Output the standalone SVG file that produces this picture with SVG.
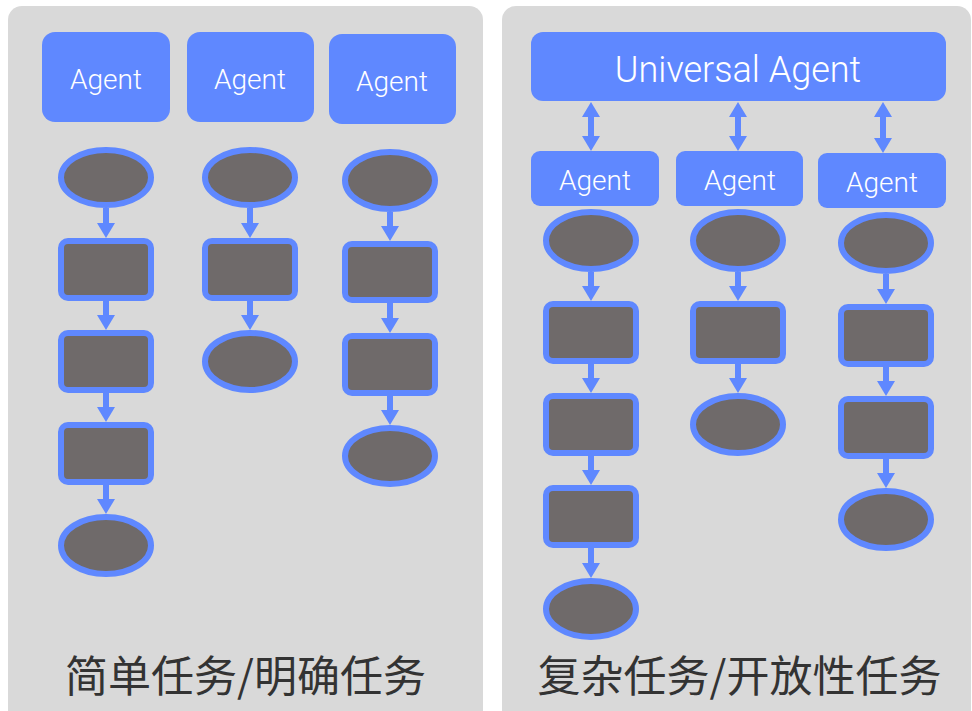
<svg xmlns="http://www.w3.org/2000/svg" width="972" height="711" viewBox="0 0 972 711">
<defs>
<style>
.panel{fill:#d9d9d9}
.agent{fill:#5f88ff}
.at{fill:#fff;font-family:Roboto,"Liberation Sans",sans-serif;font-weight:300;text-anchor:middle}
.step{fill:#6f6a6a;stroke:#5f88ff;stroke-width:6}
.arr{stroke:#5f88ff;stroke-width:6;fill:none}
.cap{fill:#333;font-family:"Noto Sans CJK SC","Noto Sans",sans-serif;font-size:43px;text-anchor:middle}
</style>
<marker id="ah" viewBox="0 0 15 18" refX="0" refY="9" markerWidth="15" markerHeight="18" markerUnits="userSpaceOnUse" orient="auto-start-reverse">
<path d="M0,0 L15,9 L0,18 z" fill="#5f88ff"/>
</marker>
</defs>
<rect class="panel" x="8" y="6" width="475" height="720" rx="14"/>
<rect class="panel" x="502" y="6" width="469" height="720" rx="14"/>
<g id="connectors">
<path class="arr" marker-end="url(#ah)" d="M106,208 V223"/>
<path class="arr" marker-end="url(#ah)" d="M106,301 V315"/>
<path class="arr" marker-end="url(#ah)" d="M106,393 V407"/>
<path class="arr" marker-end="url(#ah)" d="M106,485 V499"/>
<path class="arr" marker-end="url(#ah)" d="M250,208 V223"/>
<path class="arr" marker-end="url(#ah)" d="M250,301 V315"/>
<path class="arr" marker-end="url(#ah)" d="M390,212 V226"/>
<path class="arr" marker-end="url(#ah)" d="M390,303 V318"/>
<path class="arr" marker-end="url(#ah)" d="M390,396 V410"/>
<path class="arr" marker-end="url(#ah)" d="M591,272 V286"/>
<path class="arr" marker-end="url(#ah)" d="M591,364 V378"/>
<path class="arr" marker-end="url(#ah)" d="M591,456 V470"/>
<path class="arr" marker-end="url(#ah)" d="M591,548 V563"/>
<path class="arr" marker-end="url(#ah)" d="M738,272 V286"/>
<path class="arr" marker-end="url(#ah)" d="M738,364 V378"/>
<path class="arr" marker-end="url(#ah)" d="M886,274 V289"/>
<path class="arr" marker-end="url(#ah)" d="M886,367 V381"/>
<path class="arr" marker-end="url(#ah)" d="M886,459 V473"/>
<path class="arr" marker-start="url(#ah)" marker-end="url(#ah)" d="M591,117 V136"/>
<path class="arr" marker-start="url(#ah)" marker-end="url(#ah)" d="M738,117 V136"/>
<path class="arr" marker-start="url(#ah)" marker-end="url(#ah)" d="M883,117 V138"/>
</g>
<g id="agentL1"><rect class="agent" x="42" y="32" width="128" height="90" rx="13"/><text class="at" x="106" y="89" font-size="28">Agent</text></g>
<g id="agentL2"><rect class="agent" x="187" y="32" width="127" height="90" rx="13"/><text class="at" x="250" y="89" font-size="28">Agent</text></g>
<g id="agentL3"><rect class="agent" x="329" y="34" width="127" height="90" rx="13"/><text class="at" x="392" y="91" font-size="28">Agent</text></g>
<g id="L1n1"><ellipse class="step" cx="106" cy="177.5" rx="45" ry="27.5"/></g>
<g id="L1n2"><rect class="step" x="61" y="241" width="90" height="57" rx="7"/></g>
<g id="L1n3"><rect class="step" x="61" y="333" width="90" height="57" rx="7"/></g>
<g id="L1n4"><rect class="step" x="61" y="425" width="90" height="57" rx="7"/></g>
<g id="L1n5"><ellipse class="step" cx="106" cy="545.5" rx="45" ry="28.5"/></g>
<g id="L2n1"><ellipse class="step" cx="250" cy="177.5" rx="45" ry="27.5"/></g>
<g id="L2n2"><rect class="step" x="205" y="241" width="90" height="57" rx="7"/></g>
<g id="L2n3"><ellipse class="step" cx="250" cy="361.5" rx="45" ry="28.5"/></g>
<g id="L3n1"><ellipse class="step" cx="390" cy="180.5" rx="45" ry="28.5"/></g>
<g id="L3n2"><rect class="step" x="345" y="244" width="90" height="56" rx="7"/></g>
<g id="L3n3"><rect class="step" x="345" y="336" width="90" height="57" rx="7"/></g>
<g id="L3n4"><ellipse class="step" cx="390" cy="456" rx="45" ry="28"/></g>
<text class="cap" x="245.5" y="692">简单任务/明确任务</text>
<g id="universal"><rect class="agent" x="531" y="32" width="415" height="69" rx="12"/><text class="at" x="738" y="82" font-size="36">Universal Agent</text></g>
<g id="agentR1"><rect class="agent" x="531" y="151" width="128" height="55" rx="9"/><text class="at" x="595" y="190" font-size="28">Agent</text></g>
<g id="agentR2"><rect class="agent" x="676" y="151" width="127" height="55" rx="9"/><text class="at" x="740" y="190" font-size="28">Agent</text></g>
<g id="agentR3"><rect class="agent" x="818" y="153" width="128" height="55" rx="9"/><text class="at" x="882" y="192" font-size="28">Agent</text></g>
<g id="R1n1"><ellipse class="step" cx="591" cy="240.5" rx="45" ry="28.5"/></g>
<g id="R1n2"><rect class="step" x="546" y="304" width="90" height="57" rx="7"/></g>
<g id="R1n3"><rect class="step" x="546" y="396" width="90" height="57" rx="7"/></g>
<g id="R1n4"><rect class="step" x="546" y="488" width="90" height="57" rx="7"/></g>
<g id="R1n5"><ellipse class="step" cx="591" cy="609" rx="45" ry="28"/></g>
<g id="R2n1"><ellipse class="step" cx="738" cy="240.5" rx="45" ry="28.5"/></g>
<g id="R2n2"><rect class="step" x="693" y="304" width="90" height="57" rx="7"/></g>
<g id="R2n3"><ellipse class="step" cx="738" cy="424.5" rx="45" ry="28.5"/></g>
<g id="R3n1"><ellipse class="step" cx="886" cy="243" rx="45" ry="28"/></g>
<g id="R3n2"><rect class="step" x="841" y="307" width="90" height="57" rx="7"/></g>
<g id="R3n3"><rect class="step" x="841" y="399" width="90" height="57" rx="7"/></g>
<g id="R3n4"><ellipse class="step" cx="886" cy="519.5" rx="45" ry="28.5"/></g>
<text class="cap" x="739.5" y="692">复杂任务/开放性任务</text>
</svg>
